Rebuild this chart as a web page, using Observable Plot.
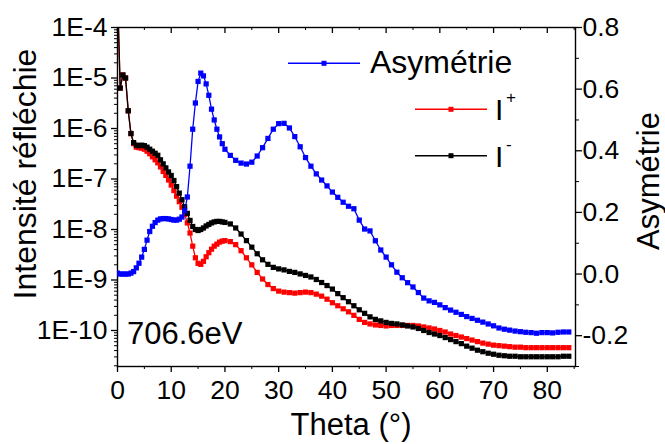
<!DOCTYPE html>
<html><head><meta charset="utf-8">
<script src="https://cdn.jsdelivr.net/npm/d3@7"></script>
<script src="https://cdn.jsdelivr.net/npm/@observablehq/plot@0.6"></script>
<style>
html,body{margin:0;padding:0;background:#fff;}
#chart{position:relative;width:665px;height:444px;overflow:hidden;}
#chart svg{position:absolute;left:0;top:0;max-width:none;}
</style></head><body><div id="chart"></div>
<script>
// ---- data ----
const theta = [0,0.5,1,1.5,2,2.5,3,3.5,4,4.5,5,5.5,6,6.5,7,7.5,8,8.5,9,9.5,10,10.5,11,11.5,12,12.5,13,13.5,14,14.5,15,15.5,16,16.5,17,17.5,18,18.5,19,19.5,20,
21,22,23,24,25,26,27,28,29,30,31,32,33,34,35,36,37,38,39,40,41,42,43,44,45,46,47,48,49,50,51,52,53,54,55,56,57,58,59,60,61,62,63,64,65,66,67,68,69,70,71,72,73,74,75,76,77,78,79,80,81,82,83,84];
// log10 of reflected intensity, I+ (red)
const logIplus = [-3.3,-5.2,-4.94,-5.0,-5.65,-6.1,-6.3,-6.37,-6.38,-6.39,-6.41,-6.45,-6.5,-6.56,-6.62,-6.68,-6.76,-6.85,-6.93,-7.02,-7.12,-7.23,-7.34,-7.45,-7.56,-7.7,-7.87,-8.07,-8.33,-8.56,-8.67,-8.69,-8.63,-8.54,-8.46,-8.39,-8.33,-8.29,-8.25,-8.23,-8.22,
-8.24,-8.3,-8.42,-8.56,-8.7,-8.85,-8.98,-9.09,-9.17,-9.22,
-9.24,-9.25,-9.26,-9.25,-9.24,-9.25,-9.28,-9.32,-9.38,-9.45,
-9.51,-9.57,-9.63,-9.7,-9.78,-9.84,-9.87,-9.89,-9.9,-9.91,
-9.9,-9.9,-9.9,-9.9,-9.9,-9.91,-9.93,-9.95,-9.97,-10.0,
-10.03,-10.07,-10.1,-10.13,-10.16,-10.19,-10.22,-10.25,-10.27,-10.29,
-10.3,-10.31,-10.32,-10.33,-10.33,-10.34,-10.34,-10.34,-10.34,-10.34,
-10.34,-10.34,-10.34,-10.34];
// log10 of reflected intensity, I- (black)
const logIminus = [-3.3,-5.2,-4.94,-5.0,-5.65,-6.1,-6.28,-6.33,-6.34,-6.33,-6.34,-6.37,-6.41,-6.45,-6.49,-6.53,-6.62,-6.7,-6.78,-6.86,-6.93,-7.03,-7.15,-7.28,-7.41,-7.55,-7.68,-7.82,-7.94,-8.0,-8.02,-8.0,-7.97,-7.93,-7.9,-7.87,-7.85,-7.84,-7.84,-7.85,-7.86,
-7.89,-7.97,-8.09,-8.22,-8.35,-8.48,-8.6,-8.69,-8.75,-8.78,
-8.8,-8.83,-8.85,-8.88,-8.91,-8.94,-8.99,-9.05,-9.11,-9.18,
-9.27,-9.35,-9.43,-9.51,-9.59,-9.66,-9.73,-9.78,-9.81,-9.84,
-9.86,-9.87,-9.89,-9.91,-9.93,-9.96,-10.0,-10.04,-10.07,-10.1,
-10.14,-10.18,-10.22,-10.26,-10.31,-10.35,-10.39,-10.42,-10.45,-10.47,
-10.49,-10.5,-10.51,-10.51,-10.52,-10.52,-10.52,-10.52,-10.52,-10.52,
-10.52,-10.52,-10.51,-10.51];
// asymmetry (blue, right axis)
const asym = [0.003,0.0,0.0,0.0,0.0,0.003,0.008,0.02,0.035,0.055,0.08,0.11,0.138,0.155,0.167,0.175,0.179,0.18,0.18,0.179,0.177,0.175,0.175,0.178,0.185,0.205,0.25,0.35,0.47,0.555,0.625,0.652,0.643,0.617,0.58,0.535,0.5,0.47,0.445,0.423,0.405,
0.385,0.369,0.36,0.357,0.363,0.383,0.41,0.44,0.47,0.488,
0.489,0.474,0.446,0.413,0.378,0.35,0.325,0.305,0.286,0.266,
0.249,0.233,0.22,0.212,0.175,0.146,0.14,0.108,0.078,0.055,
0.03,0.006,-0.012,-0.028,-0.042,-0.06,-0.078,-0.087,-0.092,-0.1,
-0.109,-0.117,-0.124,-0.131,-0.138,-0.144,-0.15,-0.156,-0.162,-0.168,
-0.175,-0.179,-0.182,-0.185,-0.187,-0.189,-0.19,-0.192,-0.19,-0.19,
-0.191,-0.189,-0.188,-0.188];

const xTicks = [0,10,20,30,40,50,60,70,80];
const xTickLabels = ["0","10","20","30","40","50","60","70","80"];
const xMinorTicks = [5,15,25,35,45,55,65,75,85];
const leftTicks = [1e-10,1e-9,1e-8,1e-7,1e-6,1e-5,1e-4];
const leftTickLabels = ["1E-10","1E-9","1E-8","1E-7","1E-6","1E-5","1E-4"];
const rightTicks = [-0.2,0,0.2,0.4,0.6,0.8];
const rightTickLabels = ["-0.2","0.0","0.2","0.4","0.6","0.8"];
const rightMinorTicks = [-0.3,-0.1,0.1,0.3,0.5,0.7];
const seriesNames = ["Asymétrie","I","I"];
const seriesSup = ["","+","-"];
const seriesColors = ["#0000ff","#ff0000","#000000"];
const xTitle = "Theta (°)";
const yTitle = "Intensité réfléchie";
const y2Title = "Asymétrie";
const annotation = "706.6eV";

// ---- layout ----
const W = 665, H = 444;
const M = {top: 27, right: 90, bottom: 78, left: 117};
const FONT = "'Liberation Sans', Arial, Helvetica, sans-serif";
const plotH = H - M.top - M.bottom;
const MR = 2.95, LW = 1.3;
const leftMinorTicks = [];
for (let k = -11; k <= -5; k++) for (let m = 2; m <= 9; m++) {
  const v = m * Math.pow(10, k);
  if (v > 1.94e-11 && v < 1e-4) leftMinorTicks.push(v);
}

const rows = theta.map((t, i) => ({
  theta: t,
  ip: Math.pow(10, logIplus[i]),
  im: Math.pow(10, logIminus[i]),
  a: asym[i]
}));

const common = {
  width: W, height: H,
  marginTop: M.top, marginRight: M.right, marginBottom: M.bottom, marginLeft: M.left,
  x: {domain: [0, 85.25]}
};

const p1 = Plot.plot({
  ...common,
  style: {fontFamily: FONT, fontSize: "26px", color: "#000", background: "#fff"},
  y: {type: "log", domain: [Math.pow(10, -10.713), 1e-4]},
  marks: [
    Plot.line(rows, {x: "theta", y: "ip", stroke: seriesColors[1], strokeWidth: LW, clip: true}),
    Plot.dot(rows, {x: "theta", y: "ip", symbol: "square", r: MR, fill: seriesColors[1], stroke: "none", clip: true}),
    Plot.line(rows, {x: "theta", y: "im", stroke: seriesColors[2], strokeWidth: LW, clip: true}),
    Plot.dot(rows, {x: "theta", y: "im", symbol: "square", r: MR, fill: seriesColors[2], stroke: "none", clip: true}),
    Plot.frame({stroke: "#000", strokeWidth: 1.4}),
    Plot.axisY({ticks: leftTicks, tickSize: 6, tickPadding: 4, strokeWidth: 1.3,
      tickFormat: d => leftTickLabels[leftTicks.indexOf(d)], label: null, fontSize: 26.5}),
    Plot.axisY({ticks: leftMinorTicks, tickSize: 3, strokeWidth: 1, tickFormat: () => "", label: null}),
    Plot.axisX({ticks: xTicks, tickSize: 6, tickPadding: 8, strokeWidth: 1.3,
      tickFormat: d => xTickLabels[xTicks.indexOf(d)], label: null, fontSize: 26.5}),
    Plot.axisX({ticks: xMinorTicks, tickSize: 3, strokeWidth: 1, tickFormat: () => "", label: null}),
    Plot.tickX(xTicks, {x: d => d, insetBottom: plotH - 6, stroke: "#000", strokeWidth: 1.3}),
    Plot.tickX(xMinorTicks, {x: d => d, insetBottom: plotH - 3, stroke: "#000", strokeWidth: 1})
  ]
});

const p2 = Plot.plot({
  ...common,
  style: {fontFamily: FONT, fontSize: "26px", color: "#000", background: "transparent"},
  x: {domain: [0, 85.25], axis: null},
  y: {domain: [-0.3, 0.8]},
  marks: [
    Plot.line(rows, {x: "theta", y: "a", stroke: seriesColors[0], strokeWidth: LW, clip: true}),
    Plot.dot(rows, {x: "theta", y: "a", symbol: "square", r: MR, fill: seriesColors[0], stroke: "none", clip: true}),
    Plot.axisY({anchor: "right", ticks: rightTicks, tickSize: 6, tickPadding: 1, strokeWidth: 1.3,
      tickFormat: d => rightTickLabels[rightTicks.indexOf(d)], label: null, fontSize: 26.5}),
    Plot.axisY({anchor: "right", ticks: rightMinorTicks, tickSize: 3, strokeWidth: 1, tickFormat: () => "", label: null})
  ]
});

const chart = document.getElementById("chart");
chart.appendChild(p1);
chart.appendChild(p2);

// ---- titles, annotation and legend ----
const ov = d3.select(chart).append("svg")
  .attr("width", W).attr("height", H)
  .style("font-family", FONT).style("fill", "#000");

ov.append("text").attr("x", 351).attr("y", 435).attr("text-anchor", "middle")
  .attr("font-size", 31).text(xTitle);
ov.append("text").attr("transform", "translate(36,174) rotate(-90)").attr("text-anchor", "middle")
  .attr("font-size", 32).text(yTitle);
ov.append("text").attr("transform", "translate(659,181) rotate(-90)").attr("text-anchor", "middle")
  .attr("font-size", 31).text(y2Title);
ov.append("text").attr("x", 127).attr("y", 344).attr("font-size", 31).text(annotation);

const leg = [
  {x1: 288, x2: 360, y: 63.3, tx: 370, ty: 73.3, fs: 32},
  {x1: 415, x2: 487, y: 109.3, tx: 495, ty: 120, fs: 30},
  {x1: 415, x2: 487, y: 155.7, tx: 495, ty: 166.7, fs: 30}
];
leg.forEach((L, i) => {
  ov.append("line").attr("x1", L.x1).attr("x2", L.x2).attr("y1", L.y).attr("y2", L.y)
    .attr("stroke", seriesColors[i]).attr("stroke-width", 1.5);
  ov.append("rect").attr("x", (L.x1 + L.x2) / 2 - 2.5).attr("y", L.y - 2.5)
    .attr("width", 5).attr("height", 5).attr("fill", seriesColors[i]);
  ov.append("text").attr("x", L.tx).attr("y", L.ty).attr("font-size", L.fs).text(seriesNames[i]);
  if (seriesSup[i]) {
    ov.append("text").attr("x", L.tx + 11).attr("y", i === 1 ? 103 : 150)
      .attr("font-size", 17).text(seriesSup[i]);
  }
});
</script></body></html>
